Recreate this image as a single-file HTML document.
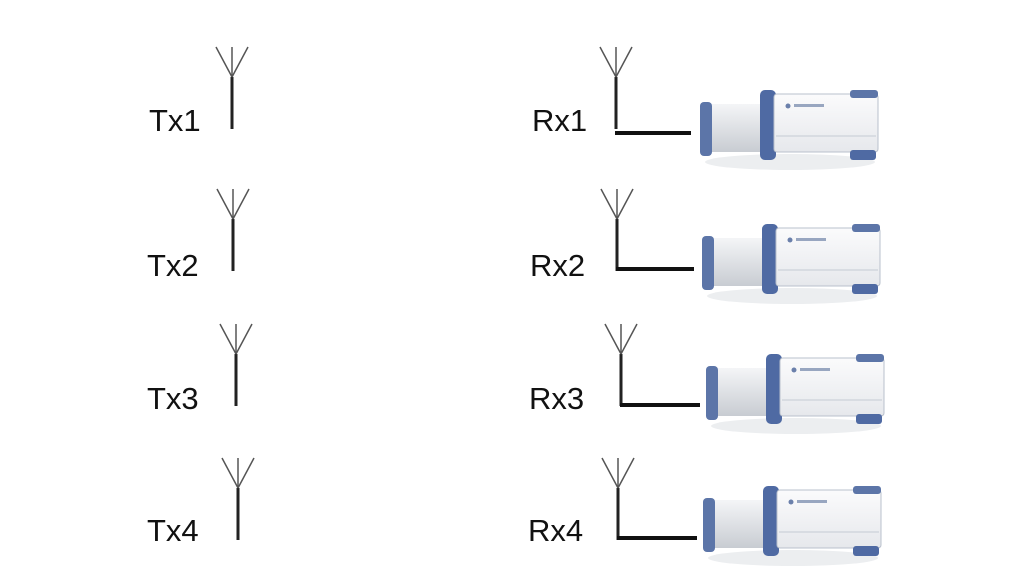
<!DOCTYPE html>
<html><head><style>
body{margin:0;background:#fff;}
svg{display:block}
text{font-family:"Liberation Sans",sans-serif;font-size:31px;fill:#111}
</style></head><body>
<svg width="1024" height="576" viewBox="0 0 1024 576">
<defs>
<g id="ant">
<line x1="0" y1="30" x2="0" y2="82" stroke="#222" stroke-width="3"/>
<line x1="0" y1="30" x2="-16" y2="0" stroke="#555" stroke-width="1.5"/>
<line x1="0" y1="30" x2="16" y2="0" stroke="#555" stroke-width="1.5"/>
<line x1="0" y1="30" x2="0" y2="0" stroke="#555" stroke-width="1.5"/>
</g>
<linearGradient id="sd" x1="0" y1="0" x2="0" y2="1">
<stop offset="0" stop-color="#f4f5f7"/><stop offset="1" stop-color="#c8ccd2"/></linearGradient>
<linearGradient id="fr" x1="0" y1="0" x2="0" y2="1">
<stop offset="0" stop-color="#fbfbfc"/><stop offset="1" stop-color="#e6e8ec"/></linearGradient>
<g id="dev">
<ellipse cx="90" cy="72" rx="85" ry="8" fill="#eceef0"/>
<rect x="4" y="14" width="60" height="48" fill="url(#sd)"/>
<rect x="0" y="12" width="12" height="54" rx="4" fill="#5c75a8"/>
<rect x="60" y="0" width="16" height="70" rx="5" fill="#4f6aa3"/>
<rect x="74" y="4" width="104" height="58" rx="3" fill="url(#fr)" stroke="#b9c0cc"/>
<rect x="150" y="0" width="28" height="8" rx="3" fill="#5c75a8"/>
<rect x="150" y="60" width="26" height="10" rx="3" fill="#4f6aa3"/>
<line x1="76" y1="46" x2="176" y2="46" stroke="#c5cad3"/>
<circle cx="88" cy="16" r="2.5" fill="#6b80ab"/>
<rect x="94" y="14" width="30" height="3" fill="#98a6c0"/>
</g>
</defs>
<text x="149" y="131">Tx1</text>
<use href="#ant" x="232" y="47"/>
<text x="147" y="276">Tx2</text>
<use href="#ant" x="233" y="189"/>
<text x="147" y="409">Tx3</text>
<use href="#ant" x="236" y="324"/>
<text x="147" y="541">Tx4</text>
<use href="#ant" x="238" y="458"/>

<text x="532" y="131">Rx1</text>
<use href="#ant" x="616" y="47"/>
<line x1="615" y1="133" x2="691" y2="133" stroke="#111" stroke-width="4"/>
<use href="#dev" x="700" y="90"/>

<text x="530" y="276">Rx2</text>
<use href="#ant" x="617" y="189"/>
<line x1="616" y1="269" x2="694" y2="269" stroke="#111" stroke-width="4"/>
<use href="#dev" x="702" y="224"/>

<text x="529" y="409">Rx3</text>
<use href="#ant" x="621" y="324"/>
<line x1="620" y1="405" x2="700" y2="405" stroke="#111" stroke-width="4"/>
<use href="#dev" x="706" y="354"/>

<text x="528" y="541">Rx4</text>
<use href="#ant" x="618" y="458"/>
<line x1="617" y1="538" x2="697" y2="538" stroke="#111" stroke-width="4"/>
<use href="#dev" x="703" y="486"/>
</svg>
</body></html>
